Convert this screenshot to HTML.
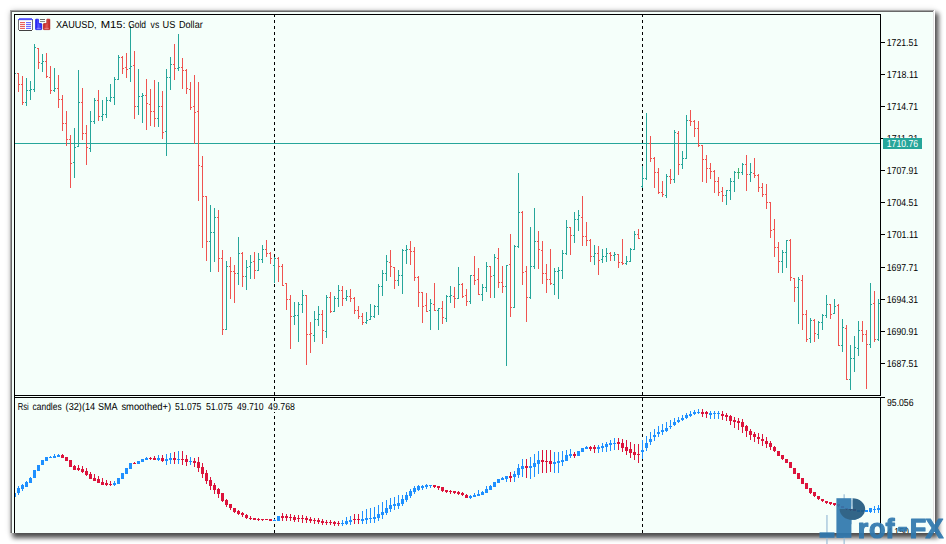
<!DOCTYPE html>
<html lang="en"><head><meta charset="utf-8"><title>XAUUSD, M15: Gold vs US Dollar</title>
<style>html,body{margin:0;padding:0;background:#fff;overflow:hidden}svg{display:block}text{font-family:"Liberation Sans",sans-serif;}</style>
</head><body>
<svg width="946" height="544" viewBox="0 0 946 544">
<defs><filter id="sh" x="-5%" y="-5%" width="110%" height="110%"><feGaussianBlur stdDeviation="2.6"/></filter>
<filter id="sh2" x="-5%" y="-5%" width="110%" height="110%"><feGaussianBlur stdDeviation="3"/></filter>
<linearGradient id="gb" x1="0" y1="0" x2="1" y2="0"><stop offset="0" stop-color="#1515f5"/><stop offset="0.45" stop-color="#5a5aff"/><stop offset="1" stop-color="#2020f0"/></linearGradient>
<linearGradient id="gr" x1="0" y1="0" x2="1" y2="0"><stop offset="0" stop-color="#c02020"/><stop offset="0.55" stop-color="#e05858"/><stop offset="1" stop-color="#b81818"/></linearGradient>
<clipPath id="pclip"><rect x="836.4" y="498.2" width="15" height="39.6"/><path d="M852.5 498.2A12.8 10.8 0 1 1 839.6 509H852.5z"/></clipPath>
<clipPath id="panel"><rect x="10" y="10" width="925" height="523"/></clipPath>
<clipPath id="mainclip"><rect x="15" y="15" width="865" height="380"/></clipPath>
<clipPath id="subclip"><rect x="15" y="398" width="865" height="135"/></clipPath>
<clipPath id="lblclip"><rect x="885" y="130" width="45" height="8"/></clipPath></defs>
<rect width="946" height="544" fill="#ffffff"/>
<rect x="10" y="10" width="925" height="523" fill="#000" opacity="0.13" filter="url(#sh2)"/>
<rect x="12.5" y="13" width="926" height="525" fill="#000" opacity="0.68" filter="url(#sh)"/>
<g shape-rendering="crispEdges">
<rect x="10" y="10" width="925" height="523" fill="#f5fffa"/>
<rect x="10" y="10" width="925" height="1" fill="#a0a0a0"/>
<rect x="10" y="10" width="1" height="523" fill="#a0a0a0"/>
<rect x="11" y="11" width="923" height="1" fill="#696969"/>
<rect x="11" y="11" width="1" height="522" fill="#696969"/>
<rect x="934" y="10" width="1" height="523" fill="#ffffff"/>
<rect x="933" y="11" width="1" height="522" fill="#e3e3e3"/>
<rect x="14" y="14" width="867" height="1" fill="#000"/>
<rect x="14" y="14" width="1" height="519" fill="#000"/>
<rect x="880" y="14" width="1" height="382" fill="#000"/>
<rect x="880" y="397" width="1" height="136" fill="#000"/>
<rect x="14" y="395" width="867" height="1" fill="#000"/>
<rect x="14" y="397" width="871" height="1" fill="#000"/>
<rect x="881" y="42" width="4" height="1" fill="#000"/>
<rect x="881" y="74" width="4" height="1" fill="#000"/>
<rect x="881" y="106" width="4" height="1" fill="#000"/>
<rect x="881" y="138" width="4" height="1" fill="#000"/>
<rect x="881" y="170" width="4" height="1" fill="#000"/>
<rect x="881" y="202" width="4" height="1" fill="#000"/>
<rect x="881" y="234" width="4" height="1" fill="#000"/>
<rect x="881" y="267" width="4" height="1" fill="#000"/>
<rect x="881" y="299" width="4" height="1" fill="#000"/>
<rect x="881" y="331" width="4" height="1" fill="#000"/>
<rect x="881" y="363" width="4" height="1" fill="#000"/>
</g>
<g shape-rendering="crispEdges" fill="#000">
<rect x="274" y="15" width="1" height="2"/>
<rect x="274" y="20" width="1" height="3"/>
<rect x="274" y="26" width="1" height="3"/>
<rect x="274" y="32" width="1" height="3"/>
<rect x="274" y="38" width="1" height="3"/>
<rect x="274" y="44" width="1" height="3"/>
<rect x="274" y="50" width="1" height="3"/>
<rect x="274" y="56" width="1" height="3"/>
<rect x="274" y="62" width="1" height="3"/>
<rect x="274" y="68" width="1" height="3"/>
<rect x="274" y="74" width="1" height="3"/>
<rect x="274" y="80" width="1" height="3"/>
<rect x="274" y="86" width="1" height="3"/>
<rect x="274" y="92" width="1" height="3"/>
<rect x="274" y="98" width="1" height="3"/>
<rect x="274" y="104" width="1" height="3"/>
<rect x="274" y="110" width="1" height="3"/>
<rect x="274" y="116" width="1" height="3"/>
<rect x="274" y="122" width="1" height="3"/>
<rect x="274" y="128" width="1" height="3"/>
<rect x="274" y="134" width="1" height="3"/>
<rect x="274" y="140" width="1" height="3"/>
<rect x="274" y="146" width="1" height="3"/>
<rect x="274" y="152" width="1" height="3"/>
<rect x="274" y="158" width="1" height="3"/>
<rect x="274" y="164" width="1" height="3"/>
<rect x="274" y="170" width="1" height="3"/>
<rect x="274" y="176" width="1" height="3"/>
<rect x="274" y="182" width="1" height="3"/>
<rect x="274" y="188" width="1" height="3"/>
<rect x="274" y="194" width="1" height="3"/>
<rect x="274" y="200" width="1" height="3"/>
<rect x="274" y="206" width="1" height="3"/>
<rect x="274" y="212" width="1" height="3"/>
<rect x="274" y="218" width="1" height="3"/>
<rect x="274" y="224" width="1" height="3"/>
<rect x="274" y="230" width="1" height="3"/>
<rect x="274" y="236" width="1" height="3"/>
<rect x="274" y="242" width="1" height="3"/>
<rect x="274" y="248" width="1" height="3"/>
<rect x="274" y="254" width="1" height="3"/>
<rect x="274" y="260" width="1" height="3"/>
<rect x="274" y="266" width="1" height="3"/>
<rect x="274" y="272" width="1" height="3"/>
<rect x="274" y="278" width="1" height="3"/>
<rect x="274" y="284" width="1" height="3"/>
<rect x="274" y="290" width="1" height="3"/>
<rect x="274" y="296" width="1" height="3"/>
<rect x="274" y="302" width="1" height="3"/>
<rect x="274" y="308" width="1" height="3"/>
<rect x="274" y="314" width="1" height="3"/>
<rect x="274" y="320" width="1" height="3"/>
<rect x="274" y="326" width="1" height="3"/>
<rect x="274" y="332" width="1" height="3"/>
<rect x="274" y="338" width="1" height="3"/>
<rect x="274" y="344" width="1" height="3"/>
<rect x="274" y="350" width="1" height="3"/>
<rect x="274" y="356" width="1" height="3"/>
<rect x="274" y="362" width="1" height="3"/>
<rect x="274" y="368" width="1" height="3"/>
<rect x="274" y="374" width="1" height="3"/>
<rect x="274" y="380" width="1" height="3"/>
<rect x="274" y="386" width="1" height="3"/>
<rect x="274" y="392" width="1" height="3"/>
<rect x="274" y="398" width="1" height="3"/>
<rect x="274" y="404" width="1" height="3"/>
<rect x="274" y="410" width="1" height="3"/>
<rect x="274" y="416" width="1" height="3"/>
<rect x="274" y="422" width="1" height="3"/>
<rect x="274" y="428" width="1" height="3"/>
<rect x="274" y="434" width="1" height="3"/>
<rect x="274" y="440" width="1" height="3"/>
<rect x="274" y="446" width="1" height="3"/>
<rect x="274" y="452" width="1" height="3"/>
<rect x="274" y="458" width="1" height="3"/>
<rect x="274" y="464" width="1" height="3"/>
<rect x="274" y="470" width="1" height="3"/>
<rect x="274" y="476" width="1" height="3"/>
<rect x="274" y="482" width="1" height="3"/>
<rect x="274" y="488" width="1" height="3"/>
<rect x="274" y="494" width="1" height="3"/>
<rect x="274" y="500" width="1" height="3"/>
<rect x="274" y="506" width="1" height="3"/>
<rect x="274" y="512" width="1" height="3"/>
<rect x="274" y="518" width="1" height="3"/>
<rect x="274" y="524" width="1" height="3"/>
<rect x="274" y="530" width="1" height="3"/>
<rect x="642" y="15" width="1" height="2"/>
<rect x="642" y="20" width="1" height="3"/>
<rect x="642" y="26" width="1" height="3"/>
<rect x="642" y="32" width="1" height="3"/>
<rect x="642" y="38" width="1" height="3"/>
<rect x="642" y="44" width="1" height="3"/>
<rect x="642" y="50" width="1" height="3"/>
<rect x="642" y="56" width="1" height="3"/>
<rect x="642" y="62" width="1" height="3"/>
<rect x="642" y="68" width="1" height="3"/>
<rect x="642" y="74" width="1" height="3"/>
<rect x="642" y="80" width="1" height="3"/>
<rect x="642" y="86" width="1" height="3"/>
<rect x="642" y="92" width="1" height="3"/>
<rect x="642" y="98" width="1" height="3"/>
<rect x="642" y="104" width="1" height="3"/>
<rect x="642" y="110" width="1" height="3"/>
<rect x="642" y="116" width="1" height="3"/>
<rect x="642" y="122" width="1" height="3"/>
<rect x="642" y="128" width="1" height="3"/>
<rect x="642" y="134" width="1" height="3"/>
<rect x="642" y="140" width="1" height="3"/>
<rect x="642" y="146" width="1" height="3"/>
<rect x="642" y="152" width="1" height="3"/>
<rect x="642" y="158" width="1" height="3"/>
<rect x="642" y="164" width="1" height="3"/>
<rect x="642" y="170" width="1" height="3"/>
<rect x="642" y="176" width="1" height="3"/>
<rect x="642" y="182" width="1" height="3"/>
<rect x="642" y="188" width="1" height="3"/>
<rect x="642" y="194" width="1" height="3"/>
<rect x="642" y="200" width="1" height="3"/>
<rect x="642" y="206" width="1" height="3"/>
<rect x="642" y="212" width="1" height="3"/>
<rect x="642" y="218" width="1" height="3"/>
<rect x="642" y="224" width="1" height="3"/>
<rect x="642" y="230" width="1" height="3"/>
<rect x="642" y="236" width="1" height="3"/>
<rect x="642" y="242" width="1" height="3"/>
<rect x="642" y="248" width="1" height="3"/>
<rect x="642" y="254" width="1" height="3"/>
<rect x="642" y="260" width="1" height="3"/>
<rect x="642" y="266" width="1" height="3"/>
<rect x="642" y="272" width="1" height="3"/>
<rect x="642" y="278" width="1" height="3"/>
<rect x="642" y="284" width="1" height="3"/>
<rect x="642" y="290" width="1" height="3"/>
<rect x="642" y="296" width="1" height="3"/>
<rect x="642" y="302" width="1" height="3"/>
<rect x="642" y="308" width="1" height="3"/>
<rect x="642" y="314" width="1" height="3"/>
<rect x="642" y="320" width="1" height="3"/>
<rect x="642" y="326" width="1" height="3"/>
<rect x="642" y="332" width="1" height="3"/>
<rect x="642" y="338" width="1" height="3"/>
<rect x="642" y="344" width="1" height="3"/>
<rect x="642" y="350" width="1" height="3"/>
<rect x="642" y="356" width="1" height="3"/>
<rect x="642" y="362" width="1" height="3"/>
<rect x="642" y="368" width="1" height="3"/>
<rect x="642" y="374" width="1" height="3"/>
<rect x="642" y="380" width="1" height="3"/>
<rect x="642" y="386" width="1" height="3"/>
<rect x="642" y="392" width="1" height="3"/>
<rect x="642" y="398" width="1" height="3"/>
<rect x="642" y="404" width="1" height="3"/>
<rect x="642" y="410" width="1" height="3"/>
<rect x="642" y="416" width="1" height="3"/>
<rect x="642" y="422" width="1" height="3"/>
<rect x="642" y="428" width="1" height="3"/>
<rect x="642" y="434" width="1" height="3"/>
<rect x="642" y="440" width="1" height="3"/>
<rect x="642" y="446" width="1" height="3"/>
<rect x="642" y="452" width="1" height="3"/>
<rect x="642" y="458" width="1" height="3"/>
<rect x="642" y="464" width="1" height="3"/>
<rect x="642" y="470" width="1" height="3"/>
<rect x="642" y="476" width="1" height="3"/>
<rect x="642" y="482" width="1" height="3"/>
<rect x="642" y="488" width="1" height="3"/>
<rect x="642" y="494" width="1" height="3"/>
<rect x="642" y="500" width="1" height="3"/>
<rect x="642" y="506" width="1" height="3"/>
<rect x="642" y="512" width="1" height="3"/>
<rect x="642" y="518" width="1" height="3"/>
<rect x="642" y="524" width="1" height="3"/>
<rect x="642" y="530" width="1" height="3"/>
</g>
<rect x="15" y="143" width="865" height="1" fill="#26a69a" shape-rendering="crispEdges"/>
<g shape-rendering="crispEdges" clip-path="url(#mainclip)">
<path fill="#ef5350" d="M18 73h1v19h-1zM17 73h1v1h-1zM19 84h1v1h-1z"/>
<path fill="#ef5350" d="M22 76h1v29h-1zM21 84h1v1h-1zM23 102h1v1h-1z"/>
<path fill="#26a69a" d="M26 78h1v28h-1zM25 102h1v1h-1zM27 90h1v1h-1z"/>
<path fill="#26a69a" d="M30 81h1v19h-1zM29 90h1v1h-1zM31 89h1v1h-1z"/>
<path fill="#26a69a" d="M34 44h1v48h-1zM33 89h1v1h-1zM35 47h1v1h-1z"/>
<path fill="#ef5350" d="M38 48h1v21h-1zM37 48h1v1h-1zM39 62h1v1h-1z"/>
<path fill="#26a69a" d="M42 54h1v18h-1zM41 63h1v1h-1zM43 61h1v1h-1z"/>
<path fill="#ef5350" d="M46 53h1v25h-1zM45 61h1v1h-1zM47 76h1v1h-1z"/>
<path fill="#ef5350" d="M50 66h1v28h-1zM49 77h1v1h-1zM51 90h1v1h-1z"/>
<path fill="#26a69a" d="M54 68h1v24h-1zM53 90h1v1h-1zM55 88h1v1h-1z"/>
<path fill="#ef5350" d="M58 75h1v33h-1zM57 88h1v1h-1zM59 99h1v1h-1z"/>
<path fill="#ef5350" d="M62 95h1v36h-1zM61 99h1v1h-1zM63 123h1v1h-1z"/>
<path fill="#ef5350" d="M66 111h1v35h-1zM65 123h1v1h-1zM67 139h1v1h-1z"/>
<path fill="#ef5350" d="M70 135h1v53h-1zM69 139h1v1h-1zM71 163h1v1h-1z"/>
<path fill="#26a69a" d="M74 128h1v50h-1zM73 162h1v1h-1zM75 147h1v1h-1z"/>
<path fill="#26a69a" d="M78 70h1v77h-1zM77 146h1v1h-1zM79 102h1v1h-1z"/>
<path fill="#ef5350" d="M82 88h1v52h-1zM81 102h1v1h-1zM83 133h1v1h-1z"/>
<path fill="#ef5350" d="M86 125h1v40h-1zM85 133h1v1h-1zM87 147h1v1h-1z"/>
<path fill="#26a69a" d="M90 111h1v41h-1zM89 148h1v1h-1zM91 121h1v1h-1z"/>
<path fill="#26a69a" d="M94 98h1v26h-1zM93 121h1v1h-1zM95 100h1v1h-1z"/>
<path fill="#ef5350" d="M98 90h1v31h-1zM97 100h1v1h-1zM99 116h1v1h-1z"/>
<path fill="#26a69a" d="M102 100h1v21h-1zM101 116h1v1h-1zM103 114h1v1h-1z"/>
<path fill="#26a69a" d="M106 97h1v21h-1zM105 114h1v1h-1zM107 100h1v1h-1z"/>
<path fill="#26a69a" d="M110 84h1v18h-1zM109 100h1v1h-1zM111 97h1v1h-1z"/>
<path fill="#26a69a" d="M114 77h1v28h-1zM113 97h1v1h-1zM115 79h1v1h-1z"/>
<path fill="#26a69a" d="M118 55h1v25h-1zM117 79h1v1h-1zM119 57h1v1h-1z"/>
<path fill="#ef5350" d="M122 56h1v18h-1zM121 57h1v1h-1zM123 68h1v1h-1z"/>
<path fill="#ef5350" d="M126 53h1v25h-1zM125 67h1v1h-1zM127 69h1v1h-1z"/>
<path fill="#26a69a" d="M130 26h1v56h-1zM129 68h1v1h-1zM131 66h1v1h-1z"/>
<path fill="#ef5350" d="M134 51h1v68h-1zM133 65h1v1h-1zM135 106h1v1h-1z"/>
<path fill="#26a69a" d="M138 69h1v46h-1zM137 106h1v1h-1zM139 96h1v1h-1z"/>
<path fill="#26a69a" d="M142 93h1v30h-1zM141 96h1v1h-1zM143 95h1v1h-1z"/>
<path fill="#ef5350" d="M146 79h1v51h-1zM145 95h1v1h-1zM147 103h1v1h-1z"/>
<path fill="#ef5350" d="M150 89h1v37h-1zM149 104h1v1h-1zM151 111h1v1h-1z"/>
<path fill="#ef5350" d="M154 80h1v47h-1zM153 111h1v1h-1zM155 118h1v1h-1z"/>
<path fill="#26a69a" d="M158 82h1v45h-1zM157 118h1v1h-1zM159 106h1v1h-1z"/>
<path fill="#ef5350" d="M162 91h1v48h-1zM161 106h1v1h-1zM163 132h1v1h-1z"/>
<path fill="#26a69a" d="M166 69h1v87h-1zM165 131h1v1h-1zM167 77h1v1h-1z"/>
<path fill="#26a69a" d="M170 57h1v33h-1zM169 77h1v1h-1zM171 64h1v1h-1z"/>
<path fill="#ef5350" d="M174 44h1v36h-1zM173 64h1v1h-1zM175 68h1v1h-1z"/>
<path fill="#26a69a" d="M178 34h1v37h-1zM177 68h1v1h-1zM179 67h1v1h-1z"/>
<path fill="#ef5350" d="M182 58h1v31h-1zM181 67h1v1h-1zM183 70h1v1h-1z"/>
<path fill="#ef5350" d="M186 69h1v25h-1zM185 70h1v1h-1zM187 88h1v1h-1z"/>
<path fill="#ef5350" d="M190 82h1v28h-1zM189 89h1v1h-1zM191 107h1v1h-1z"/>
<path fill="#ef5350" d="M194 75h1v69h-1zM193 106h1v1h-1zM195 112h1v1h-1z"/>
<path fill="#ef5350" d="M198 82h1v119h-1zM197 111h1v1h-1zM199 165h1v1h-1z"/>
<path fill="#ef5350" d="M202 156h1v92h-1zM201 166h1v1h-1zM203 196h1v1h-1z"/>
<path fill="#ef5350" d="M206 196h1v65h-1zM205 196h1v1h-1zM207 241h1v1h-1z"/>
<path fill="#26a69a" d="M210 205h1v67h-1zM209 241h1v1h-1zM211 232h1v1h-1z"/>
<path fill="#26a69a" d="M214 208h1v54h-1zM213 232h1v1h-1zM215 217h1v1h-1z"/>
<path fill="#ef5350" d="M218 210h1v62h-1zM217 217h1v1h-1zM219 258h1v1h-1z"/>
<path fill="#ef5350" d="M222 250h1v85h-1zM221 258h1v1h-1zM223 329h1v1h-1z"/>
<path fill="#26a69a" d="M226 261h1v69h-1zM225 329h1v1h-1zM227 266h1v1h-1z"/>
<path fill="#ef5350" d="M230 257h1v42h-1zM229 266h1v1h-1zM231 271h1v1h-1z"/>
<path fill="#ef5350" d="M234 265h1v38h-1zM233 271h1v1h-1zM235 273h1v1h-1z"/>
<path fill="#26a69a" d="M238 237h1v48h-1zM237 273h1v1h-1zM239 253h1v1h-1z"/>
<path fill="#ef5350" d="M242 252h1v35h-1zM241 253h1v1h-1zM243 276h1v1h-1z"/>
<path fill="#26a69a" d="M246 260h1v30h-1zM245 276h1v1h-1zM247 267h1v1h-1z"/>
<path fill="#26a69a" d="M250 255h1v24h-1zM249 266h1v1h-1zM251 262h1v1h-1z"/>
<path fill="#ef5350" d="M254 252h1v27h-1zM253 261h1v1h-1zM255 270h1v1h-1z"/>
<path fill="#26a69a" d="M258 253h1v18h-1zM257 270h1v1h-1zM259 259h1v1h-1z"/>
<path fill="#26a69a" d="M262 245h1v18h-1zM261 259h1v1h-1zM263 249h1v1h-1z"/>
<path fill="#ef5350" d="M266 240h1v17h-1zM265 249h1v1h-1zM267 253h1v1h-1z"/>
<path fill="#ef5350" d="M270 252h1v12h-1zM269 253h1v1h-1zM271 258h1v1h-1z"/>
<path fill="#26a69a" d="M274 257h1v26h-1zM273 265h1v1h-1zM275 258h1v1h-1z"/>
<path fill="#ef5350" d="M278 257h1v25h-1zM277 258h1v1h-1zM279 266h1v1h-1z"/>
<path fill="#ef5350" d="M282 264h1v22h-1zM281 266h1v1h-1zM283 285h1v1h-1z"/>
<path fill="#ef5350" d="M286 283h1v27h-1zM285 283h1v1h-1zM287 299h1v1h-1z"/>
<path fill="#ef5350" d="M290 295h1v54h-1zM289 299h1v1h-1zM291 316h1v1h-1z"/>
<path fill="#26a69a" d="M294 302h1v23h-1zM293 316h1v1h-1zM295 315h1v1h-1z"/>
<path fill="#26a69a" d="M298 302h1v40h-1zM297 315h1v1h-1zM299 304h1v1h-1z"/>
<path fill="#26a69a" d="M302 290h1v23h-1zM301 304h1v1h-1zM303 295h1v1h-1z"/>
<path fill="#ef5350" d="M306 295h1v70h-1zM305 295h1v1h-1zM307 334h1v1h-1z"/>
<path fill="#ef5350" d="M310 322h1v31h-1zM309 334h1v1h-1zM311 333h1v1h-1z"/>
<path fill="#26a69a" d="M314 311h1v31h-1zM313 335h1v1h-1zM315 319h1v1h-1z"/>
<path fill="#26a69a" d="M318 306h1v20h-1zM317 319h1v1h-1zM319 314h1v1h-1z"/>
<path fill="#ef5350" d="M322 310h1v34h-1zM321 314h1v1h-1zM323 330h1v1h-1z"/>
<path fill="#26a69a" d="M326 295h1v43h-1zM325 331h1v1h-1zM327 297h1v1h-1z"/>
<path fill="#ef5350" d="M330 292h1v21h-1zM329 297h1v1h-1zM331 311h1v1h-1z"/>
<path fill="#26a69a" d="M334 296h1v16h-1zM333 311h1v1h-1zM335 298h1v1h-1z"/>
<path fill="#26a69a" d="M338 285h1v22h-1zM337 298h1v1h-1zM339 290h1v1h-1z"/>
<path fill="#ef5350" d="M342 286h1v20h-1zM341 290h1v1h-1zM343 298h1v1h-1z"/>
<path fill="#26a69a" d="M346 290h1v11h-1zM345 298h1v1h-1zM347 296h1v1h-1z"/>
<path fill="#ef5350" d="M350 289h1v13h-1zM349 296h1v1h-1zM351 298h1v1h-1z"/>
<path fill="#ef5350" d="M354 297h1v17h-1zM353 298h1v1h-1zM355 310h1v1h-1z"/>
<path fill="#ef5350" d="M358 306h1v13h-1zM357 310h1v1h-1zM359 316h1v1h-1z"/>
<path fill="#ef5350" d="M362 313h1v12h-1zM361 316h1v1h-1zM363 322h1v1h-1z"/>
<path fill="#26a69a" d="M366 312h1v12h-1zM365 322h1v1h-1zM367 320h1v1h-1z"/>
<path fill="#26a69a" d="M370 304h1v16h-1zM369 319h1v1h-1zM371 316h1v1h-1z"/>
<path fill="#26a69a" d="M374 305h1v13h-1zM373 316h1v1h-1zM375 306h1v1h-1z"/>
<path fill="#26a69a" d="M378 284h1v31h-1zM377 306h1v1h-1zM379 286h1v1h-1z"/>
<path fill="#26a69a" d="M382 270h1v26h-1zM381 286h1v1h-1zM383 273h1v1h-1z"/>
<path fill="#26a69a" d="M386 255h1v26h-1zM385 273h1v1h-1zM387 261h1v1h-1z"/>
<path fill="#ef5350" d="M390 250h1v27h-1zM389 262h1v1h-1zM391 266h1v1h-1z"/>
<path fill="#ef5350" d="M394 267h1v22h-1zM393 267h1v1h-1zM395 280h1v1h-1z"/>
<path fill="#26a69a" d="M398 270h1v16h-1zM397 280h1v1h-1zM399 275h1v1h-1z"/>
<path fill="#26a69a" d="M402 249h1v45h-1zM401 275h1v1h-1zM403 250h1v1h-1z"/>
<path fill="#26a69a" d="M406 245h1v19h-1zM405 250h1v1h-1zM407 249h1v1h-1z"/>
<path fill="#ef5350" d="M410 241h1v24h-1zM409 249h1v1h-1zM411 251h1v1h-1z"/>
<path fill="#ef5350" d="M414 247h1v34h-1zM413 251h1v1h-1zM415 277h1v1h-1z"/>
<path fill="#ef5350" d="M418 276h1v31h-1zM417 277h1v1h-1zM419 292h1v1h-1z"/>
<path fill="#ef5350" d="M422 292h1v31h-1zM421 292h1v1h-1zM423 306h1v1h-1z"/>
<path fill="#ef5350" d="M426 293h1v19h-1zM425 305h1v1h-1zM427 311h1v1h-1z"/>
<path fill="#26a69a" d="M430 299h1v31h-1zM429 310h1v1h-1zM431 303h1v1h-1z"/>
<path fill="#ef5350" d="M434 283h1v28h-1zM433 304h1v1h-1zM435 310h1v1h-1z"/>
<path fill="#26a69a" d="M438 308h1v22h-1zM437 310h1v1h-1zM439 308h1v1h-1z"/>
<path fill="#ef5350" d="M442 301h1v23h-1zM441 308h1v1h-1zM443 317h1v1h-1z"/>
<path fill="#26a69a" d="M446 295h1v27h-1zM445 318h1v1h-1zM447 296h1v1h-1z"/>
<path fill="#26a69a" d="M450 286h1v17h-1zM449 296h1v1h-1zM451 295h1v1h-1z"/>
<path fill="#ef5350" d="M454 287h1v21h-1zM453 296h1v1h-1zM455 298h1v1h-1z"/>
<path fill="#26a69a" d="M458 267h1v32h-1zM457 298h1v1h-1zM459 284h1v1h-1z"/>
<path fill="#ef5350" d="M462 283h1v15h-1zM461 284h1v1h-1zM463 296h1v1h-1z"/>
<path fill="#ef5350" d="M466 289h1v17h-1zM465 295h1v1h-1zM467 301h1v1h-1z"/>
<path fill="#26a69a" d="M470 275h1v29h-1zM469 301h1v1h-1zM471 275h1v1h-1z"/>
<path fill="#ef5350" d="M474 256h1v29h-1zM473 275h1v1h-1zM475 280h1v1h-1z"/>
<path fill="#ef5350" d="M478 268h1v27h-1zM477 279h1v1h-1zM479 294h1v1h-1z"/>
<path fill="#26a69a" d="M482 284h1v17h-1zM481 294h1v1h-1zM483 287h1v1h-1z"/>
<path fill="#26a69a" d="M486 262h1v30h-1zM485 287h1v1h-1zM487 266h1v1h-1z"/>
<path fill="#ef5350" d="M490 266h1v32h-1zM489 266h1v1h-1zM491 276h1v1h-1z"/>
<path fill="#26a69a" d="M494 254h1v44h-1zM493 275h1v1h-1zM495 257h1v1h-1z"/>
<path fill="#ef5350" d="M498 248h1v40h-1zM497 258h1v1h-1zM499 282h1v1h-1z"/>
<path fill="#ef5350" d="M502 266h1v27h-1zM501 282h1v1h-1zM503 286h1v1h-1z"/>
<path fill="#26a69a" d="M506 265h1v101h-1zM505 286h1v1h-1zM507 265h1v1h-1z"/>
<path fill="#ef5350" d="M510 234h1v83h-1zM509 264h1v1h-1zM511 307h1v1h-1z"/>
<path fill="#26a69a" d="M514 245h1v63h-1zM513 307h1v1h-1zM515 246h1v1h-1z"/>
<path fill="#26a69a" d="M518 173h1v75h-1zM517 246h1v1h-1zM519 212h1v1h-1z"/>
<path fill="#ef5350" d="M522 211h1v74h-1zM521 212h1v1h-1zM523 272h1v1h-1z"/>
<path fill="#ef5350" d="M526 266h1v56h-1zM525 271h1v1h-1zM527 297h1v1h-1z"/>
<path fill="#26a69a" d="M530 227h1v72h-1zM529 297h1v1h-1zM531 266h1v1h-1z"/>
<path fill="#26a69a" d="M534 208h1v61h-1zM533 266h1v1h-1zM535 241h1v1h-1z"/>
<path fill="#ef5350" d="M538 231h1v38h-1zM537 241h1v1h-1zM539 249h1v1h-1z"/>
<path fill="#ef5350" d="M542 241h1v43h-1zM541 250h1v1h-1zM543 273h1v1h-1z"/>
<path fill="#ef5350" d="M546 264h1v29h-1zM545 273h1v1h-1zM547 279h1v1h-1z"/>
<path fill="#ef5350" d="M550 249h1v36h-1zM549 279h1v1h-1zM551 283h1v1h-1z"/>
<path fill="#26a69a" d="M554 268h1v27h-1zM553 284h1v1h-1zM555 271h1v1h-1z"/>
<path fill="#26a69a" d="M558 267h1v32h-1zM557 271h1v1h-1zM559 270h1v1h-1z"/>
<path fill="#26a69a" d="M562 250h1v29h-1zM561 270h1v1h-1zM563 253h1v1h-1z"/>
<path fill="#26a69a" d="M566 220h1v35h-1zM565 253h1v1h-1zM567 227h1v1h-1z"/>
<path fill="#ef5350" d="M570 227h1v28h-1zM569 227h1v1h-1zM571 235h1v1h-1z"/>
<path fill="#26a69a" d="M574 212h1v31h-1zM573 235h1v1h-1zM575 219h1v1h-1z"/>
<path fill="#26a69a" d="M578 210h1v21h-1zM577 219h1v1h-1zM579 215h1v1h-1z"/>
<path fill="#ef5350" d="M582 196h1v50h-1zM581 217h1v1h-1zM583 236h1v1h-1z"/>
<path fill="#ef5350" d="M586 222h1v24h-1zM585 236h1v1h-1zM587 240h1v1h-1z"/>
<path fill="#ef5350" d="M590 239h1v23h-1zM589 240h1v1h-1zM591 256h1v1h-1z"/>
<path fill="#26a69a" d="M594 245h1v20h-1zM593 256h1v1h-1zM595 253h1v1h-1z"/>
<path fill="#ef5350" d="M598 246h1v29h-1zM597 253h1v1h-1zM599 260h1v1h-1z"/>
<path fill="#26a69a" d="M602 249h1v14h-1zM601 259h1v1h-1zM603 256h1v1h-1z"/>
<path fill="#26a69a" d="M606 248h1v14h-1zM605 256h1v1h-1zM607 253h1v1h-1z"/>
<path fill="#ef5350" d="M610 252h1v9h-1zM609 253h1v1h-1zM611 255h1v1h-1z"/>
<path fill="#26a69a" d="M614 252h1v9h-1zM613 255h1v1h-1zM615 254h1v1h-1z"/>
<path fill="#ef5350" d="M618 254h1v14h-1zM617 254h1v1h-1zM619 262h1v1h-1z"/>
<path fill="#ef5350" d="M622 239h1v26h-1zM621 262h1v1h-1zM623 263h1v1h-1z"/>
<path fill="#26a69a" d="M626 256h1v9h-1zM625 263h1v1h-1zM627 261h1v1h-1z"/>
<path fill="#26a69a" d="M630 248h1v14h-1zM629 261h1v1h-1zM631 249h1v1h-1z"/>
<path fill="#26a69a" d="M634 231h1v19h-1zM633 249h1v1h-1zM635 234h1v1h-1z"/>
<path fill="#ef5350" d="M638 229h1v10h-1zM637 234h1v1h-1zM639 238h1v1h-1z"/>
<path fill="#26a69a" d="M642 166h1v22h-1zM641 186h1v1h-1zM643 178h1v1h-1z"/>
<path fill="#26a69a" d="M646 113h1v67h-1zM645 178h1v1h-1zM647 143h1v1h-1z"/>
<path fill="#ef5350" d="M650 136h1v26h-1zM649 143h1v1h-1zM651 158h1v1h-1z"/>
<path fill="#ef5350" d="M654 157h1v31h-1zM653 158h1v1h-1zM655 172h1v1h-1z"/>
<path fill="#ef5350" d="M658 168h1v26h-1zM657 172h1v1h-1zM659 192h1v1h-1z"/>
<path fill="#ef5350" d="M662 181h1v16h-1zM661 192h1v1h-1zM663 194h1v1h-1z"/>
<path fill="#26a69a" d="M666 174h1v24h-1zM665 195h1v1h-1zM667 176h1v1h-1z"/>
<path fill="#ef5350" d="M670 169h1v15h-1zM669 176h1v1h-1zM671 179h1v1h-1z"/>
<path fill="#26a69a" d="M674 130h1v53h-1zM673 179h1v1h-1zM675 132h1v1h-1z"/>
<path fill="#ef5350" d="M678 131h1v44h-1zM677 133h1v1h-1zM679 164h1v1h-1z"/>
<path fill="#26a69a" d="M682 151h1v18h-1zM681 164h1v1h-1zM683 158h1v1h-1z"/>
<path fill="#26a69a" d="M686 115h1v44h-1zM685 158h1v1h-1zM687 120h1v1h-1z"/>
<path fill="#ef5350" d="M690 110h1v16h-1zM689 120h1v1h-1zM691 121h1v1h-1z"/>
<path fill="#ef5350" d="M694 120h1v17h-1zM693 121h1v1h-1zM695 128h1v1h-1z"/>
<path fill="#ef5350" d="M698 121h1v26h-1zM697 128h1v1h-1zM699 145h1v1h-1z"/>
<path fill="#ef5350" d="M702 145h1v37h-1zM701 145h1v1h-1zM703 159h1v1h-1z"/>
<path fill="#ef5350" d="M706 155h1v28h-1zM705 159h1v1h-1zM707 168h1v1h-1z"/>
<path fill="#ef5350" d="M710 163h1v16h-1zM709 168h1v1h-1zM711 171h1v1h-1z"/>
<path fill="#ef5350" d="M714 170h1v23h-1zM713 171h1v1h-1zM715 181h1v1h-1z"/>
<path fill="#ef5350" d="M718 177h1v19h-1zM717 181h1v1h-1zM719 192h1v1h-1z"/>
<path fill="#ef5350" d="M722 187h1v15h-1zM721 191h1v1h-1zM723 195h1v1h-1z"/>
<path fill="#26a69a" d="M726 190h1v15h-1zM725 195h1v1h-1zM727 190h1v1h-1z"/>
<path fill="#26a69a" d="M730 178h1v22h-1zM729 190h1v1h-1zM731 181h1v1h-1z"/>
<path fill="#26a69a" d="M734 171h1v21h-1zM733 181h1v1h-1zM735 172h1v1h-1z"/>
<path fill="#3cb371" d="M738 168h1v11h-1zM737 172h1v1h-1zM739 172h1v1h-1z"/>
<path fill="#26a69a" d="M742 163h1v12h-1zM741 172h1v1h-1zM743 164h1v1h-1z"/>
<path fill="#ef5350" d="M746 155h1v36h-1zM745 164h1v1h-1zM747 174h1v1h-1z"/>
<path fill="#26a69a" d="M750 163h1v19h-1zM749 174h1v1h-1zM751 172h1v1h-1z"/>
<path fill="#ef5350" d="M754 158h1v20h-1zM753 173h1v1h-1zM755 175h1v1h-1z"/>
<path fill="#ef5350" d="M758 174h1v18h-1zM757 175h1v1h-1zM759 187h1v1h-1z"/>
<path fill="#ef5350" d="M762 183h1v14h-1zM761 187h1v1h-1zM763 194h1v1h-1z"/>
<path fill="#ef5350" d="M766 184h1v25h-1zM765 194h1v1h-1zM767 202h1v1h-1z"/>
<path fill="#ef5350" d="M770 202h1v36h-1zM769 202h1v1h-1zM771 230h1v1h-1z"/>
<path fill="#ef5350" d="M774 219h1v38h-1zM773 229h1v1h-1zM775 247h1v1h-1z"/>
<path fill="#ef5350" d="M778 242h1v31h-1zM777 247h1v1h-1zM779 261h1v1h-1z"/>
<path fill="#26a69a" d="M782 250h1v23h-1zM781 261h1v1h-1zM783 252h1v1h-1z"/>
<path fill="#26a69a" d="M786 240h1v28h-1zM785 252h1v1h-1zM787 240h1v1h-1z"/>
<path fill="#ef5350" d="M790 239h1v42h-1zM789 240h1v1h-1zM791 277h1v1h-1z"/>
<path fill="#ef5350" d="M794 278h1v24h-1zM793 278h1v1h-1zM795 287h1v1h-1z"/>
<path fill="#26a69a" d="M798 277h1v47h-1zM797 287h1v1h-1zM799 279h1v1h-1z"/>
<path fill="#ef5350" d="M802 275h1v55h-1zM801 280h1v1h-1zM803 314h1v1h-1z"/>
<path fill="#ef5350" d="M806 310h1v32h-1zM805 314h1v1h-1zM807 339h1v1h-1z"/>
<path fill="#26a69a" d="M810 318h1v25h-1zM809 338h1v1h-1zM811 320h1v1h-1z"/>
<path fill="#ef5350" d="M814 319h1v23h-1zM813 320h1v1h-1zM815 333h1v1h-1z"/>
<path fill="#26a69a" d="M818 321h1v18h-1zM817 334h1v1h-1zM819 322h1v1h-1z"/>
<path fill="#26a69a" d="M822 314h1v16h-1zM821 322h1v1h-1zM823 315h1v1h-1z"/>
<path fill="#26a69a" d="M826 295h1v23h-1zM825 315h1v1h-1zM827 304h1v1h-1z"/>
<path fill="#ef5350" d="M830 304h1v15h-1zM829 304h1v1h-1zM831 314h1v1h-1z"/>
<path fill="#26a69a" d="M834 299h1v15h-1zM833 313h1v1h-1zM835 306h1v1h-1z"/>
<path fill="#ef5350" d="M838 304h1v42h-1zM837 305h1v1h-1zM839 345h1v1h-1z"/>
<path fill="#26a69a" d="M842 319h1v33h-1zM841 345h1v1h-1zM843 327h1v1h-1z"/>
<path fill="#ef5350" d="M846 325h1v55h-1zM845 328h1v1h-1zM847 379h1v1h-1z"/>
<path fill="#26a69a" d="M850 345h1v45h-1zM849 379h1v1h-1zM851 358h1v1h-1z"/>
<path fill="#26a69a" d="M854 336h1v36h-1zM853 358h1v1h-1zM855 347h1v1h-1z"/>
<path fill="#26a69a" d="M858 321h1v35h-1zM857 348h1v1h-1zM859 330h1v1h-1z"/>
<path fill="#ef5350" d="M862 321h1v21h-1zM861 330h1v1h-1zM863 334h1v1h-1z"/>
<path fill="#ef5350" d="M866 330h1v59h-1zM865 334h1v1h-1zM867 344h1v1h-1z"/>
<path fill="#26a69a" d="M870 283h1v65h-1zM869 344h1v1h-1zM871 304h1v1h-1z"/>
<path fill="#ef5350" d="M874 291h1v51h-1zM873 303h1v1h-1zM875 339h1v1h-1z"/>
<path fill="#26a69a" d="M878 299h1v42h-1zM877 339h1v1h-1zM879 303h1v1h-1z"/>
</g>
<rect x="15" y="73" width="1" height="1" fill="#26a69a" shape-rendering="crispEdges"/>
<g shape-rendering="crispEdges" clip-path="url(#subclip)">
<rect x="15" y="493" width="1" height="4" fill="#1e90ff"/>
<path fill="#1e90ff" d="M17 488h3v5h-3zM18 486h1v2h-1zM18 493h1v2h-1z"/>
<path fill="#1e90ff" d="M21 485h3v4h-3zM22 484h1v1h-1zM22 489h1v2h-1z"/>
<path fill="#1e90ff" d="M25 482h3v5h-3zM26 481h1v1h-1z"/>
<path fill="#1e90ff" d="M29 478h3v5h-3zM30 477h1v1h-1z"/>
<path fill="#1e90ff" d="M33 470h3v8h-3z"/>
<path fill="#1e90ff" d="M37 465h3v6h-3z"/>
<path fill="#1e90ff" d="M41 460h3v5h-3z"/>
<path fill="#1e90ff" d="M45 457h3v4h-3z"/>
<path fill="#1e90ff" d="M49 457h3v1h-3zM50 456h1v1h-1z"/>
<path fill="#1e90ff" d="M53 456h3v2h-3zM54 454h1v2h-1z"/>
<path fill="#1e90ff" d="M57 455h3v2h-3zM58 454h1v1h-1z"/>
<path fill="#dc143c" d="M61 455h3v3h-3zM62 454h1v1h-1z"/>
<path fill="#dc143c" d="M65 457h3v4h-3z"/>
<path fill="#dc143c" d="M69 460h3v7h-3z"/>
<path fill="#dc143c" d="M73 466h3v4h-3zM74 465h1v1h-1z"/>
<path fill="#dc143c" d="M77 468h3v2h-3zM78 465h1v3h-1zM78 470h1v1h-1z"/>
<path fill="#dc143c" d="M81 469h3v3h-3zM82 466h1v3h-1zM82 472h1v1h-1z"/>
<path fill="#dc143c" d="M85 471h3v4h-3zM86 468h1v3h-1zM86 475h1v1h-1z"/>
<path fill="#dc143c" d="M89 474h3v5h-3zM90 472h1v2h-1z"/>
<path fill="#dc143c" d="M93 478h3v3h-3zM94 474h1v4h-1z"/>
<path fill="#dc143c" d="M97 479h3v4h-3zM98 476h1v3h-1z"/>
<path fill="#dc143c" d="M101 482h3v3h-3zM102 478h1v4h-1z"/>
<path fill="#dc143c" d="M105 483h3v2h-3zM106 480h1v3h-1zM106 485h1v1h-1z"/>
<path fill="#dc143c" d="M109 484h3v1h-3zM110 481h1v3h-1zM110 485h1v1h-1z"/>
<path fill="#1e90ff" d="M113 483h3v2h-3zM114 481h1v2h-1zM114 485h1v1h-1z"/>
<path fill="#1e90ff" d="M117 478h3v6h-3z"/>
<path fill="#1e90ff" d="M121 473h3v6h-3z"/>
<path fill="#1e90ff" d="M125 468h3v6h-3z"/>
<path fill="#1e90ff" d="M129 463h3v6h-3z"/>
<path fill="#dc143c" d="M133 463h3v1h-3zM134 462h1v1h-1z"/>
<path fill="#1e90ff" d="M137 461h3v3h-3z"/>
<path fill="#1e90ff" d="M141 459h3v3h-3z"/>
<path fill="#1e90ff" d="M145 458h3v2h-3zM146 457h1v1h-1z"/>
<path fill="#dc143c" d="M149 458h3v1h-3zM150 457h1v1h-1zM150 459h1v1h-1z"/>
<path fill="#dc143c" d="M153 458h3v2h-3zM154 456h1v2h-1z"/>
<path fill="#1e90ff" d="M157 458h3v2h-3zM158 455h1v3h-1zM158 460h1v1h-1z"/>
<path fill="#dc143c" d="M161 458h3v3h-3zM162 455h1v3h-1zM162 461h1v1h-1z"/>
<path fill="#1e90ff" d="M165 459h3v2h-3zM166 454h1v5h-1zM166 461h1v4h-1z"/>
<path fill="#1e90ff" d="M169 458h3v2h-3zM170 453h1v5h-1zM170 460h1v4h-1z"/>
<path fill="#dc143c" d="M173 458h3v2h-3zM174 452h1v6h-1zM174 460h1v4h-1z"/>
<path fill="#1e90ff" d="M177 459h3v1h-3zM178 451h1v8h-1zM178 460h1v4h-1z"/>
<path fill="#dc143c" d="M181 459h3v1h-3zM182 451h1v8h-1zM182 460h1v5h-1z"/>
<path fill="#dc143c" d="M185 459h3v3h-3zM186 455h1v4h-1zM186 462h1v4h-1z"/>
<path fill="#1e90ff" d="M189 461h3v1h-3zM190 457h1v4h-1zM190 462h1v3h-1z"/>
<path fill="#dc143c" d="M193 461h3v2h-3zM194 458h1v3h-1zM194 463h1v4h-1z"/>
<path fill="#dc143c" d="M197 462h3v6h-3zM198 457h1v5h-1zM198 468h1v4h-1z"/>
<path fill="#dc143c" d="M201 467h3v7h-3zM202 463h1v4h-1zM202 474h1v4h-1z"/>
<path fill="#dc143c" d="M205 473h3v8h-3zM206 470h1v3h-1zM206 481h1v3h-1z"/>
<path fill="#dc143c" d="M209 480h3v6h-3zM210 477h1v3h-1zM210 486h1v4h-1z"/>
<path fill="#dc143c" d="M213 485h3v5h-3zM214 483h1v2h-1zM214 490h1v4h-1z"/>
<path fill="#dc143c" d="M217 489h3v5h-3zM218 488h1v1h-1zM218 494h1v4h-1z"/>
<path fill="#dc143c" d="M221 493h3v8h-3zM222 501h1v1h-1z"/>
<path fill="#dc143c" d="M225 500h3v5h-3zM226 499h1v1h-1zM226 505h1v2h-1z"/>
<path fill="#dc143c" d="M229 504h3v4h-3zM230 508h1v2h-1z"/>
<path fill="#dc143c" d="M233 508h3v4h-3zM234 512h1v1h-1z"/>
<path fill="#dc143c" d="M237 511h3v3h-3zM238 510h1v1h-1zM238 514h1v1h-1z"/>
<path fill="#dc143c" d="M241 513h3v2h-3zM242 512h1v1h-1zM242 515h1v2h-1z"/>
<path fill="#dc143c" d="M245 515h3v3h-3zM246 514h1v1h-1zM246 518h1v1h-1z"/>
<path fill="#dc143c" d="M249 518h3v1h-3zM250 516h1v2h-1zM250 519h1v1h-1z"/>
<path fill="#dc143c" d="M253 518h3v2h-3z"/>
<path fill="#dc143c" d="M257 519h3v1h-3zM258 518h1v1h-1zM258 520h1v1h-1z"/>
<path fill="#dc143c" d="M261 519h3v1h-3zM262 520h1v1h-1z"/>
<path fill="#dc143c" d="M265 519h3v1h-3z"/>
<path fill="#dc143c" d="M269 519h3v2h-3z"/>
<path fill="#1e90ff" d="M273 520h3v1h-3zM274 519h1v1h-1z"/>
<path fill="#1e90ff" d="M277 516h3v5h-3z"/>
<path fill="#dc143c" d="M281 516h3v2h-3zM282 513h1v3h-1zM282 518h1v3h-1z"/>
<path fill="#dc143c" d="M285 516h3v2h-3zM286 514h1v2h-1zM286 518h1v3h-1z"/>
<path fill="#dc143c" d="M289 517h3v1h-3zM290 514h1v3h-1zM290 518h1v3h-1z"/>
<path fill="#dc143c" d="M293 517h3v3h-3zM294 515h1v2h-1zM294 520h1v2h-1z"/>
<path fill="#dc143c" d="M297 518h3v1h-3zM298 515h1v3h-1zM298 519h1v3h-1z"/>
<path fill="#dc143c" d="M301 518h3v1h-3zM302 515h1v3h-1zM302 519h1v4h-1z"/>
<path fill="#dc143c" d="M305 518h3v2h-3zM306 516h1v2h-1zM306 520h1v3h-1z"/>
<path fill="#dc143c" d="M309 519h3v2h-3zM310 517h1v2h-1zM310 521h1v2h-1z"/>
<path fill="#dc143c" d="M313 520h3v1h-3zM314 518h1v2h-1zM314 521h1v3h-1z"/>
<path fill="#dc143c" d="M317 520h3v2h-3zM318 518h1v2h-1zM318 522h1v2h-1z"/>
<path fill="#dc143c" d="M321 521h3v2h-3zM322 519h1v2h-1zM322 523h1v2h-1z"/>
<path fill="#dc143c" d="M325 522h3v1h-3zM326 520h1v2h-1zM326 523h1v2h-1z"/>
<path fill="#dc143c" d="M329 522h3v1h-3zM330 520h1v2h-1zM330 523h1v2h-1z"/>
<path fill="#dc143c" d="M333 522h3v2h-3zM334 521h1v1h-1zM334 524h1v2h-1z"/>
<path fill="#dc143c" d="M337 523h3v1h-3zM338 521h1v2h-1zM338 524h1v2h-1z"/>
<path fill="#1e90ff" d="M341 523h3v1h-3zM342 520h1v3h-1zM342 524h1v2h-1z"/>
<path fill="#1e90ff" d="M345 521h3v3h-3zM346 517h1v4h-1zM346 524h1v1h-1z"/>
<path fill="#1e90ff" d="M349 520h3v2h-3zM350 516h1v4h-1zM350 522h1v3h-1z"/>
<path fill="#dc143c" d="M353 519h3v1h-3zM354 514h1v5h-1zM354 520h1v4h-1z"/>
<path fill="#dc143c" d="M357 519h3v1h-3zM358 514h1v5h-1zM358 520h1v4h-1z"/>
<path fill="#1e90ff" d="M361 519h3v2h-3zM362 511h1v8h-1zM362 521h1v3h-1z"/>
<path fill="#1e90ff" d="M365 518h3v2h-3zM366 509h1v9h-1zM366 520h1v4h-1z"/>
<path fill="#1e90ff" d="M369 518h3v1h-3zM370 508h1v10h-1zM370 519h1v4h-1z"/>
<path fill="#1e90ff" d="M373 517h3v2h-3zM374 507h1v10h-1zM374 519h1v4h-1z"/>
<path fill="#1e90ff" d="M377 514h3v4h-3zM378 505h1v9h-1zM378 518h1v3h-1z"/>
<path fill="#1e90ff" d="M381 512h3v3h-3zM382 502h1v10h-1zM382 515h1v4h-1z"/>
<path fill="#1e90ff" d="M385 508h3v5h-3zM386 500h1v8h-1zM386 513h1v2h-1z"/>
<path fill="#1e90ff" d="M389 505h3v4h-3zM390 498h1v7h-1zM390 509h1v3h-1z"/>
<path fill="#1e90ff" d="M393 504h3v2h-3zM394 497h1v7h-1zM394 506h1v4h-1z"/>
<path fill="#1e90ff" d="M397 503h3v3h-3zM398 495h1v8h-1zM398 506h1v3h-1z"/>
<path fill="#1e90ff" d="M401 499h3v5h-3zM402 495h1v4h-1zM402 504h1v2h-1z"/>
<path fill="#1e90ff" d="M405 495h3v5h-3zM406 492h1v3h-1zM406 500h1v2h-1z"/>
<path fill="#1e90ff" d="M409 491h3v5h-3zM410 489h1v2h-1zM410 496h1v2h-1z"/>
<path fill="#1e90ff" d="M413 488h3v4h-3zM414 486h1v2h-1zM414 492h1v2h-1z"/>
<path fill="#1e90ff" d="M417 486h3v4h-3zM418 485h1v1h-1zM418 490h1v1h-1z"/>
<path fill="#1e90ff" d="M421 486h3v2h-3zM422 485h1v1h-1zM422 488h1v2h-1z"/>
<path fill="#1e90ff" d="M425 485h3v2h-3zM426 484h1v1h-1zM426 487h1v2h-1z"/>
<path fill="#1e90ff" d="M429 485h3v1h-3zM430 486h1v2h-1z"/>
<path fill="#dc143c" d="M433 485h3v2h-3zM434 487h1v1h-1z"/>
<path fill="#dc143c" d="M437 486h3v2h-3zM438 488h1v2h-1z"/>
<path fill="#dc143c" d="M441 487h3v4h-3zM442 491h1v1h-1z"/>
<path fill="#dc143c" d="M445 490h3v2h-3zM446 492h1v1h-1z"/>
<path fill="#dc143c" d="M449 491h3v1h-3zM450 490h1v1h-1zM450 492h1v2h-1z"/>
<path fill="#dc143c" d="M453 491h3v2h-3zM454 493h1v1h-1z"/>
<path fill="#dc143c" d="M457 492h3v2h-3zM458 491h1v1h-1zM458 494h1v1h-1z"/>
<path fill="#dc143c" d="M461 493h3v2h-3zM462 492h1v1h-1zM462 495h1v1h-1z"/>
<path fill="#dc143c" d="M465 495h3v3h-3zM466 494h1v1h-1z"/>
<path fill="#1e90ff" d="M469 496h3v2h-3zM470 495h1v1h-1zM470 498h1v1h-1z"/>
<path fill="#1e90ff" d="M473 495h3v2h-3zM474 493h1v2h-1z"/>
<path fill="#1e90ff" d="M477 494h3v2h-3zM478 490h1v4h-1z"/>
<path fill="#1e90ff" d="M481 492h3v3h-3zM482 491h1v1h-1z"/>
<path fill="#1e90ff" d="M485 489h3v4h-3zM486 486h1v3h-1z"/>
<path fill="#1e90ff" d="M489 486h3v4h-3zM490 485h1v1h-1z"/>
<path fill="#1e90ff" d="M493 482h3v5h-3z"/>
<path fill="#1e90ff" d="M497 479h3v4h-3z"/>
<path fill="#1e90ff" d="M501 478h3v2h-3zM502 477h1v1h-1z"/>
<path fill="#1e90ff" d="M505 476h3v3h-3zM506 479h1v3h-1z"/>
<path fill="#dc143c" d="M509 476h3v2h-3zM510 472h1v4h-1zM510 478h1v4h-1z"/>
<path fill="#1e90ff" d="M513 474h3v3h-3zM514 471h1v3h-1zM514 477h1v5h-1z"/>
<path fill="#1e90ff" d="M517 468h3v7h-3zM518 464h1v4h-1zM518 475h1v3h-1z"/>
<path fill="#1e90ff" d="M521 466h3v3h-3zM522 459h1v7h-1zM522 469h1v8h-1z"/>
<path fill="#dc143c" d="M525 466h3v2h-3zM526 459h1v7h-1zM526 468h1v10h-1z"/>
<path fill="#1e90ff" d="M529 466h3v2h-3zM530 457h1v9h-1zM530 468h1v11h-1z"/>
<path fill="#1e90ff" d="M533 463h3v4h-3zM534 454h1v9h-1zM534 467h1v10h-1z"/>
<path fill="#1e90ff" d="M537 460h3v4h-3zM538 451h1v9h-1zM538 464h1v10h-1z"/>
<path fill="#dc143c" d="M541 460h3v2h-3zM542 450h1v10h-1zM542 462h1v11h-1z"/>
<path fill="#dc143c" d="M545 461h3v1h-3zM546 450h1v11h-1zM546 462h1v11h-1z"/>
<path fill="#dc143c" d="M549 461h3v3h-3zM550 450h1v11h-1zM550 464h1v8h-1z"/>
<path fill="#1e90ff" d="M553 462h3v2h-3zM554 452h1v10h-1zM554 464h1v9h-1z"/>
<path fill="#1e90ff" d="M557 461h3v2h-3zM558 452h1v9h-1zM558 463h1v10h-1z"/>
<path fill="#1e90ff" d="M561 460h3v2h-3zM562 451h1v9h-1zM562 462h1v4h-1z"/>
<path fill="#1e90ff" d="M565 455h3v6h-3zM566 450h1v5h-1z"/>
<path fill="#1e90ff" d="M569 454h3v2h-3zM570 449h1v5h-1zM570 456h1v2h-1z"/>
<path fill="#dc143c" d="M573 454h3v2h-3zM574 452h1v2h-1zM574 456h1v2h-1z"/>
<path fill="#1e90ff" d="M577 451h3v5h-3z"/>
<path fill="#1e90ff" d="M581 448h3v4h-3z"/>
<path fill="#1e90ff" d="M585 447h3v2h-3zM586 446h1v1h-1z"/>
<path fill="#dc143c" d="M589 447h3v2h-3zM590 446h1v1h-1zM590 449h1v2h-1z"/>
<path fill="#dc143c" d="M593 447h3v2h-3zM594 445h1v2h-1zM594 449h1v4h-1z"/>
<path fill="#1e90ff" d="M597 447h3v2h-3zM598 445h1v2h-1zM598 449h1v4h-1z"/>
<path fill="#1e90ff" d="M601 446h3v2h-3zM602 443h1v3h-1zM602 448h1v4h-1z"/>
<path fill="#1e90ff" d="M605 444h3v3h-3zM606 442h1v2h-1zM606 447h1v5h-1z"/>
<path fill="#1e90ff" d="M609 443h3v2h-3zM610 440h1v3h-1zM610 445h1v6h-1z"/>
<path fill="#1e90ff" d="M613 443h3v1h-3zM614 438h1v5h-1zM614 444h1v6h-1z"/>
<path fill="#dc143c" d="M617 442h3v2h-3zM618 438h1v4h-1zM618 444h1v6h-1z"/>
<path fill="#dc143c" d="M621 443h3v5h-3zM622 439h1v4h-1zM622 448h1v4h-1z"/>
<path fill="#dc143c" d="M625 447h3v4h-3zM626 440h1v7h-1zM626 451h1v4h-1z"/>
<path fill="#dc143c" d="M629 449h3v4h-3zM630 442h1v7h-1zM630 453h1v5h-1z"/>
<path fill="#dc143c" d="M633 452h3v3h-3zM634 444h1v8h-1zM634 455h1v5h-1z"/>
<path fill="#dc143c" d="M637 454h3v1h-3zM638 444h1v10h-1zM638 455h1v8h-1z"/>
<path fill="#1e90ff" d="M641 450h3v2h-3zM642 440h1v10h-1zM642 452h1v7h-1z"/>
<path fill="#1e90ff" d="M645 443h3v5h-3zM646 436h1v7h-1zM646 448h1v3h-1z"/>
<path fill="#1e90ff" d="M649 439h3v3h-3zM650 432h1v7h-1zM650 442h1v3h-1z"/>
<path fill="#1e90ff" d="M653 435h3v2h-3zM654 429h1v6h-1zM654 437h1v4h-1z"/>
<path fill="#1e90ff" d="M657 432h3v2h-3zM658 426h1v6h-1zM658 434h1v3h-1z"/>
<path fill="#1e90ff" d="M661 430h3v2h-3zM662 424h1v6h-1zM662 432h1v3h-1z"/>
<path fill="#1e90ff" d="M665 428h3v3h-3zM666 422h1v6h-1zM666 431h1v1h-1z"/>
<path fill="#1e90ff" d="M669 426h3v1h-3zM670 420h1v6h-1zM670 427h1v2h-1z"/>
<path fill="#1e90ff" d="M673 422h3v3h-3zM674 418h1v4h-1zM674 425h1v1h-1z"/>
<path fill="#1e90ff" d="M677 420h3v2h-3zM678 417h1v3h-1zM678 422h1v1h-1z"/>
<path fill="#1e90ff" d="M681 418h3v2h-3zM682 415h1v3h-1zM682 420h1v1h-1z"/>
<path fill="#1e90ff" d="M685 415h3v3h-3zM686 413h1v2h-1zM686 418h1v1h-1z"/>
<path fill="#1e90ff" d="M689 414h3v2h-3zM690 411h1v3h-1zM690 416h1v1h-1z"/>
<path fill="#1e90ff" d="M693 412h3v2h-3zM694 410h1v2h-1zM694 414h1v1h-1z"/>
<path fill="#1e90ff" d="M697 412h3v1h-3zM698 409h1v3h-1zM698 413h1v1h-1z"/>
<path fill="#dc143c" d="M701 412h3v2h-3zM702 409h1v3h-1zM702 414h1v3h-1z"/>
<path fill="#dc143c" d="M705 412h3v2h-3zM706 411h1v1h-1zM706 414h1v4h-1z"/>
<path fill="#1e90ff" d="M709 413h3v2h-3zM710 411h1v2h-1zM710 415h1v4h-1z"/>
<path fill="#1e90ff" d="M713 413h3v1h-3zM714 411h1v2h-1zM714 414h1v5h-1z"/>
<path fill="#1e90ff" d="M717 413h3v1h-3zM718 411h1v2h-1zM718 414h1v5h-1z"/>
<path fill="#dc143c" d="M721 414h3v2h-3zM722 411h1v3h-1zM722 416h1v4h-1z"/>
<path fill="#dc143c" d="M725 415h3v2h-3zM726 413h1v2h-1zM726 417h1v4h-1z"/>
<path fill="#dc143c" d="M729 416h3v5h-3zM730 415h1v1h-1zM730 421h1v4h-1z"/>
<path fill="#dc143c" d="M733 420h3v2h-3zM734 417h1v3h-1zM734 422h1v6h-1z"/>
<path fill="#dc143c" d="M737 421h3v2h-3zM738 418h1v3h-1zM738 423h1v7h-1z"/>
<path fill="#dc143c" d="M741 422h3v5h-3zM742 419h1v3h-1zM742 427h1v6h-1z"/>
<path fill="#dc143c" d="M745 426h3v5h-3zM746 425h1v1h-1zM746 431h1v6h-1z"/>
<path fill="#dc143c" d="M749 431h3v4h-3zM750 429h1v2h-1zM750 435h1v5h-1z"/>
<path fill="#dc143c" d="M753 434h3v3h-3zM754 432h1v2h-1zM754 437h1v5h-1z"/>
<path fill="#dc143c" d="M757 437h3v2h-3zM758 433h1v4h-1zM758 439h1v5h-1z"/>
<path fill="#dc143c" d="M761 439h3v2h-3zM762 434h1v5h-1zM762 441h1v5h-1z"/>
<path fill="#dc143c" d="M765 441h3v3h-3zM766 437h1v4h-1zM766 444h1v4h-1z"/>
<path fill="#dc143c" d="M769 443h3v4h-3zM770 441h1v2h-1zM770 447h1v3h-1z"/>
<path fill="#dc143c" d="M773 447h3v4h-3zM774 446h1v1h-1zM774 451h1v1h-1z"/>
<path fill="#dc143c" d="M777 451h3v5h-3z"/>
<path fill="#dc143c" d="M781 455h3v4h-3zM782 459h1v1h-1z"/>
<path fill="#dc143c" d="M785 459h3v4h-3z"/>
<path fill="#dc143c" d="M789 462h3v6h-3z"/>
<path fill="#dc143c" d="M793 468h3v6h-3z"/>
<path fill="#dc143c" d="M797 473h3v6h-3z"/>
<path fill="#dc143c" d="M801 478h3v6h-3z"/>
<path fill="#dc143c" d="M805 483h3v6h-3z"/>
<path fill="#dc143c" d="M809 488h3v5h-3zM810 493h1v1h-1z"/>
<path fill="#dc143c" d="M813 492h3v4h-3zM814 496h1v1h-1z"/>
<path fill="#dc143c" d="M817 496h3v3h-3zM818 499h1v1h-1z"/>
<path fill="#dc143c" d="M821 499h3v2h-3zM822 501h1v1h-1z"/>
<path fill="#dc143c" d="M825 501h3v2h-3zM826 503h1v1h-1z"/>
<path fill="#dc143c" d="M829 502h3v2h-3zM830 504h1v1h-1z"/>
<path fill="#dc143c" d="M833 503h3v2h-3zM834 505h1v1h-1z"/>
<path fill="#dc143c" d="M837 504h3v2h-3zM838 506h1v1h-1z"/>
<path fill="#dc143c" d="M841 506h3v2h-3z"/>
<path fill="#dc143c" d="M845 508h3v1h-3zM846 509h1v1h-1z"/>
<path fill="#dc143c" d="M849 509h3v1h-3zM850 510h1v1h-1z"/>
<path fill="#dc143c" d="M853 509h3v2h-3z"/>
<path fill="#1e90ff" d="M857 510h3v2h-3z"/>
<path fill="#1e90ff" d="M861 510h3v2h-3z"/>
<path fill="#1e90ff" d="M865 510h3v2h-3z"/>
<path fill="#1e90ff" d="M869 508h3v4h-3zM870 512h1v1h-1z"/>
<path fill="#1e90ff" d="M873 509h3v1h-3zM874 506h1v3h-1zM874 510h1v3h-1z"/>
<path fill="#1e90ff" d="M877 508h3v2h-3zM878 505h1v3h-1zM878 510h1v3h-1z"/>
</g>
<rect x="883" y="138" width="39" height="11" fill="#26a69a" shape-rendering="crispEdges"/>
<text x="886.8" y="46" font-size="10.2" text-rendering="geometricPrecision" fill="#000" textLength="31.3" lengthAdjust="spacingAndGlyphs">1721.51</text>
<text x="886.8" y="78" font-size="10.2" text-rendering="geometricPrecision" fill="#000" textLength="31.3" lengthAdjust="spacingAndGlyphs">1718.11</text>
<text x="886.8" y="110" font-size="10.2" text-rendering="geometricPrecision" fill="#000" textLength="31.3" lengthAdjust="spacingAndGlyphs">1714.71</text>
<g clip-path="url(#lblclip)">
<text x="886.8" y="142" font-size="10.2" text-rendering="geometricPrecision" fill="#000" textLength="31.3" lengthAdjust="spacingAndGlyphs">1711.31</text>
</g>
<text x="886.8" y="174" font-size="10.2" text-rendering="geometricPrecision" fill="#000" textLength="31.3" lengthAdjust="spacingAndGlyphs">1707.91</text>
<text x="886.8" y="206" font-size="10.2" text-rendering="geometricPrecision" fill="#000" textLength="31.3" lengthAdjust="spacingAndGlyphs">1704.51</text>
<text x="886.8" y="238" font-size="10.2" text-rendering="geometricPrecision" fill="#000" textLength="31.3" lengthAdjust="spacingAndGlyphs">1701.11</text>
<text x="886.8" y="271" font-size="10.2" text-rendering="geometricPrecision" fill="#000" textLength="31.3" lengthAdjust="spacingAndGlyphs">1697.71</text>
<text x="886.8" y="303" font-size="10.2" text-rendering="geometricPrecision" fill="#000" textLength="31.3" lengthAdjust="spacingAndGlyphs">1694.31</text>
<text x="886.8" y="335" font-size="10.2" text-rendering="geometricPrecision" fill="#000" textLength="31.3" lengthAdjust="spacingAndGlyphs">1690.91</text>
<text x="886.8" y="367" font-size="10.2" text-rendering="geometricPrecision" fill="#000" textLength="31.3" lengthAdjust="spacingAndGlyphs">1687.51</text>
<text x="886.8" y="147" font-size="10.2" text-rendering="geometricPrecision" fill="#fff" textLength="31.3" lengthAdjust="spacingAndGlyphs">1710.76</text>
<text x="887" y="406" font-size="10.2" text-rendering="geometricPrecision" fill="#000" textLength="26.5" lengthAdjust="spacingAndGlyphs">95.056</text>
<g clip-path="url(#panel)">
<text x="887" y="535" font-size="10.2" text-rendering="geometricPrecision" fill="#000" textLength="22" lengthAdjust="spacingAndGlyphs">4.150</text>
</g>
<text x="56" y="28" font-size="10.2" text-rendering="geometricPrecision" fill="#000" textLength="40.5" lengthAdjust="spacingAndGlyphs">XAUUSD,</text>
<text x="100.7" y="28" font-size="10.2" text-rendering="geometricPrecision" fill="#000" textLength="25" lengthAdjust="spacingAndGlyphs">M15:</text>
<text x="128.2" y="28" font-size="10.2" text-rendering="geometricPrecision" fill="#000" textLength="17.8" lengthAdjust="spacingAndGlyphs">Gold</text>
<text x="150.6" y="28" font-size="10.2" text-rendering="geometricPrecision" fill="#000" textLength="8.6" lengthAdjust="spacingAndGlyphs">vs</text>
<text x="162.6" y="28" font-size="10.2" text-rendering="geometricPrecision" fill="#000" textLength="12.8" lengthAdjust="spacingAndGlyphs">US</text>
<text x="179" y="28" font-size="10.2" text-rendering="geometricPrecision" fill="#000" textLength="23.7" lengthAdjust="spacingAndGlyphs">Dollar</text>
<rect x="17" y="401" width="280" height="11" fill="#f5fffa" shape-rendering="crispEdges"/>
<text x="17.8" y="410" font-size="10.2" text-rendering="geometricPrecision" fill="#000" textLength="11" lengthAdjust="spacingAndGlyphs">Rsi</text>
<text x="32.6" y="410" font-size="10.2" text-rendering="geometricPrecision" fill="#000" textLength="29" lengthAdjust="spacingAndGlyphs">candles</text>
<text x="65.6" y="410" font-size="10.2" text-rendering="geometricPrecision" fill="#000" textLength="29.6" lengthAdjust="spacingAndGlyphs">(32)(14</text>
<text x="97.9" y="410" font-size="10.2" text-rendering="geometricPrecision" fill="#000" textLength="19.6" lengthAdjust="spacingAndGlyphs">SMA</text>
<text x="121.4" y="410" font-size="10.2" text-rendering="geometricPrecision" fill="#000" textLength="49.8" lengthAdjust="spacingAndGlyphs">smoothed+)</text>
<text x="175" y="410" font-size="10.2" text-rendering="geometricPrecision" fill="#000" textLength="26.4" lengthAdjust="spacingAndGlyphs">51.075</text>
<text x="206" y="410" font-size="10.2" text-rendering="geometricPrecision" fill="#000" textLength="26.6" lengthAdjust="spacingAndGlyphs">51.075</text>
<text x="237" y="410" font-size="10.2" text-rendering="geometricPrecision" fill="#000" textLength="26.5" lengthAdjust="spacingAndGlyphs">49.710</text>
<text x="268" y="410" font-size="10.2" text-rendering="geometricPrecision" fill="#000" textLength="27" lengthAdjust="spacingAndGlyphs">49.768</text>
<g shape-rendering="crispEdges">
<rect x="18" y="18" width="15" height="13" fill="#ffffff"/>
<rect x="19" y="18" width="13" height="1" fill="#6a6aff"/><rect x="18" y="19" width="15" height="1" fill="#5050f8"/>
<rect x="18" y="20" width="15" height="1" fill="#e4e4f4"/>
<rect x="18" y="20" width="1" height="10" fill="#707070"/><rect x="32" y="20" width="1" height="10" fill="#707070"/><rect x="19" y="30" width="13" height="1" fill="#404040"/>
<rect x="20" y="22" width="5" height="1" fill="#e8605a"/><rect x="26" y="22" width="5" height="1" fill="#6a6aff"/>
<rect x="20" y="24" width="5" height="1" fill="#e8605a"/><rect x="26" y="24" width="5" height="1" fill="#6a6aff"/>
<rect x="20" y="26" width="5" height="1" fill="#e8605a"/><rect x="26" y="26" width="5" height="1" fill="#6a6aff"/>
<rect x="20" y="28" width="5" height="1" fill="#e8605a"/><rect x="26" y="28" width="5" height="1" fill="#6a6aff"/>
<rect x="20" y="23" width="5" height="1" fill="#fbe3e1"/><rect x="26" y="23" width="5" height="1" fill="#e3e3ff"/>
<rect x="20" y="25" width="5" height="1" fill="#fbe3e1"/><rect x="26" y="25" width="5" height="1" fill="#e3e3ff"/>
<rect x="20" y="27" width="5" height="1" fill="#fbe3e1"/><rect x="26" y="27" width="5" height="1" fill="#e3e3ff"/>
</g>
<path d="M35.6 19.6Q35.6 19.2 36 19.2H38.2Q38.6 19.2 38.6 19.6V23.6H41.2Q41.7 23.6 41.7 24.1V29.2Q41.7 29.6 41.2 29.6H36Q35.6 29.6 35.6 29.2z" fill="url(#gb)" stroke="#0c0ce8" stroke-width="0.7"/>
<rect x="36.6" y="27.9" width="4.2" height="0.8" fill="#a8a8ff" opacity="0.8"/>
<path d="M49.8 19.6Q49.8 19.2 49.4 19.2H47.2Q46.8 19.2 46.8 19.6V23.6H43.9Q43.4 23.6 43.4 24.1V29.2Q43.4 29.6 43.9 29.6H49.4Q49.8 29.6 49.8 29.2z" fill="url(#gr)" stroke="#b01414" stroke-width="0.7"/>
<rect x="44.4" y="27.9" width="4.4" height="0.8" fill="#f0a0a0" opacity="0.8"/>
<rect x="40" y="19" width="5" height="1" fill="#686868" shape-rendering="crispEdges"/><rect x="40" y="21" width="5" height="1" fill="#8a8a8a" shape-rendering="crispEdges"/>
<g opacity="0.92"><rect x="826.3" y="515" width="1.3" height="29" fill="#9bbdd6"/><rect x="843.5" y="494.3" width="1.3" height="50" fill="#9bbdd6"/><rect x="819.5" y="532.3" width="15" height="5.5" fill="#2f78ae"/><text x="834" y="537.8" font-size="55.3" font-weight="bold" fill="#2f78ae" textLength="30" lengthAdjust="spacingAndGlyphs" clip-path="url(#pclip)">P</text><text y="537.5" font-size="27" font-weight="bold" fill="#2f78ae" stroke="#2f78ae" stroke-width="1.2" stroke-linejoin="round"><tspan x="857.8">r</tspan><tspan x="868.9">o</tspan><tspan x="885.6">f</tspan><tspan x="897.6" y="537" font-size="31">-</tspan><tspan x="909.8" y="537.5">F</tspan><tspan x="925.4">X</tspan></text><rect x="836.4" y="498.2" width="15" height="39.6" fill="#2f78ae"/><path d="M852.5 498.2A12.8 10.8 0 1 1 839.6 509H852.5z" fill="#22587f"/><rect x="851.4" y="498.2" width="1.1" height="10.6" fill="#a9c8dd"/></g>
</svg></body></html>
